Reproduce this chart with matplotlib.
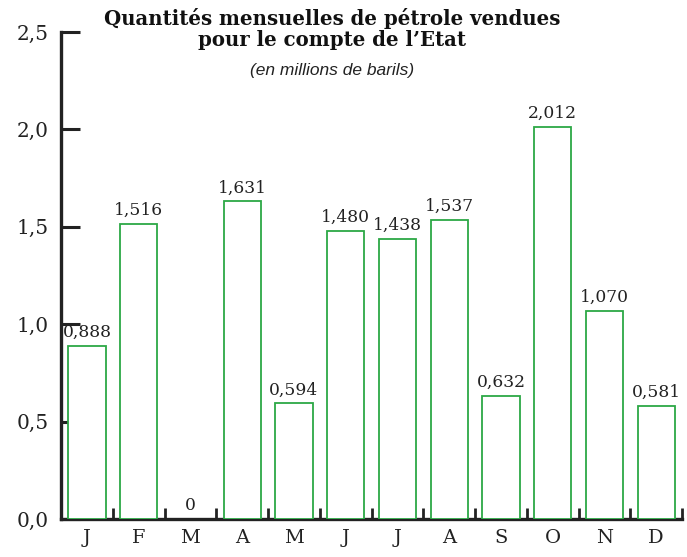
import matplotlib
matplotlib.use("Agg")
import matplotlib.pyplot as plt

months = ["J", "F", "M", "A", "M", "J", "J", "A", "S", "O", "N", "D"]
values = [0.888, 1.516, 0.0, 1.631, 0.594, 1.480, 1.438, 1.537, 0.632, 2.012, 1.070, 0.581]
labels = ["0,888", "1,516", "0", "1,631", "0,594", "1,480", "1,438", "1,537", "0,632", "2,012", "1,070", "0,581"]
yticks = [0.0, 0.5, 1.0, 1.5, 2.0, 2.5]
ytick_labels = ["0,0", "0,5", "1,0", "1,5", "2,0", "2,5"]

plt.rcParams['font.family'] = ['DejaVu Serif']
fig = plt.figure(figsize=(6.87, 5.57), dpi=100)
ax = fig.add_axes([0.0888, 0.068, 0.904, 0.8745])

green = "#2ca845"
x = list(range(len(months)))
for xi, v, lab in zip(x, values, labels):
    if v > 0:
        ax.bar(xi, v, width=0.72, facecolor="white", edgecolor=green, linewidth=1.3, zorder=3)
    ax.text(xi, v + 0.025, lab, ha="center", va="bottom", fontsize=12.3, color="#222222", zorder=4)

ax.set_xlim(-0.5, 11.5)
ax.set_ylim(0, 2.5)
ax.set_yticks(yticks)
ax.set_yticklabels(ytick_labels, fontsize=14.5, color="#222222")
ax.set_xticks(x)
ax.set_xticklabels(months, fontsize=14, color="#222222")
ax.tick_params(axis="x", length=0, pad=7)
ax.tick_params(axis="y", direction="in", length=14, width=2.2, color="#222222", pad=9)
# minor ticks at category boundaries
ax.set_xticks([i + 0.5 for i in range(12)], minor=True)
ax.tick_params(axis="x", which="minor", direction="in", length=8, width=2.0, color="#222222")

for s in ["top", "right"]:
    ax.spines[s].set_visible(False)
ax.spines["left"].set_linewidth(2.4)
ax.spines["bottom"].set_linewidth(2.4)
ax.spines["left"].set_color("#222222")
ax.spines["bottom"].set_color("#222222")

fig.text(0.483, 0.985, "Quantités mensuelles de pétrole vendues\npour le compte de l\u2019Etat",
         ha="center", va="top", fontsize=14.2, fontweight="heavy", color="#111111", linespacing=1.02)
fig.text(0.483, 0.887, "(en millions de barils)", ha="center", va="top", fontsize=12.5,
         style="italic", family="Liberation Sans", color="#222222")

fig.savefig("out.png", dpi=100)
